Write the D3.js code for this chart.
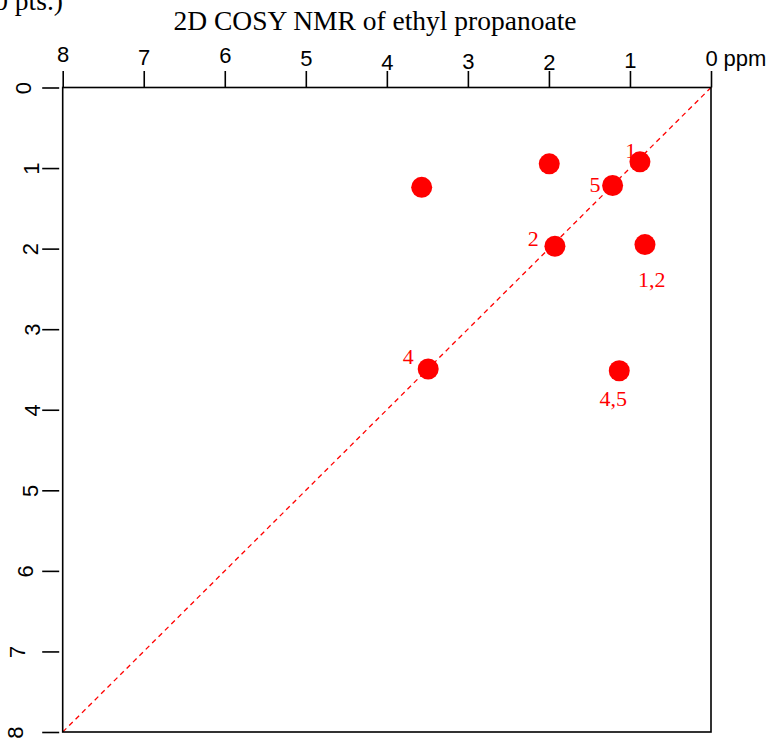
<!DOCTYPE html>
<html><head><meta charset="utf-8">
<script src="https://cdn.jsdelivr.net/npm/d3@7"></script>
<style>body{margin:0;background:#fff;}svg{display:block;}</style>
</head><body>
<script>
// ---- data ----
const chartTitle = "2D COSY NMR of ethyl propanoate";
const cornerNote = "(10 pts.)";
const axisTicks = [8, 7, 6, 5, 4, 3, 2, 1, 0];
const unitLabel = "ppm";
const peakX = [0.877, 1.996, 3.57, 1.214, 1.926, 0.815, 3.49, 1.132];
const peakY = [0.923, 0.948, 1.239, 1.217, 1.971, 1.95, 3.494, 3.516];
const peakLabels = ["1", "5", "2", "1,2", "4", "4,5"];
const peakLabelX = [0.99, 1.432, 2.194, 0.732, 3.737, 1.206];
const peakLabelY = [0.779, 1.205, 1.88, 2.38, 3.338, 3.86];

// ---- style ----
const W = 769, H = 742;
const plot = {left: 62.7, right: 711, top: 87.5, bottom: 732};
const topLabelNudge = [-4.3, -2, -3.7, -0.3, 3.7, 2.3, 3.7, 1.3, -1];
const leftLabelNudge = [-4, 4, 3, 4.5, 4.5, 3, -2, -10, -12];
const red = "#ff0000";
const serif = "Liberation Serif, Times New Roman, serif";
const sans = "Liberation Sans, Arial, sans-serif";

const svg = d3.select("body").append("svg").attr("width", W).attr("height", H);

const x = d3.scaleLinear().domain([8, 0]).range([plot.left, plot.right]);
const y = d3.scaleLinear().domain([0, 8]).range([plot.top, plot.bottom]);

// title & corner note
svg.append("text").attr("x", 375).attr("y", 30).attr("text-anchor", "middle")
  .attr("font-family", serif).attr("font-size", 27.5)
  .text(chartTitle);
svg.append("text").attr("x", 63).attr("y", 10).attr("text-anchor", "end")
  .attr("font-family", serif).attr("font-size", 27.5)
  .text(cornerNote);

// top axis
const topAxis = d3.axisTop(x).tickValues(axisTicks).tickSize(16.5).tickSizeOuter(0).tickFormat(d3.format("d"));
const gTop = svg.append("g").attr("transform", `translate(0,${plot.top})`).call(topAxis);
gTop.select(".domain").remove();
gTop.selectAll(".tick line").attr("stroke", "#000").attr("stroke-width", 1.6);
gTop.selectAll(".tick text")
  .attr("font-family", sans).attr("font-size", 22).attr("fill", "#000")
  .attr("dy", null).attr("y", (d, i) => -21 + topLabelNudge[i]);
svg.append("text").attr("x", x(0) + 12.5).attr("y", plot.top - 22)
  .attr("font-family", sans).attr("font-size", 22)
  .text(unitLabel);

// left axis (detached ticks)
const leftAxis = d3.axisLeft(y).tickValues(axisTicks.slice().reverse()).tickSize(17).tickSizeOuter(0).tickFormat(d3.format("d"));
const gLeft = svg.append("g").attr("transform", `translate(${plot.left - 3.5},0)`).call(leftAxis);
gLeft.select(".domain").remove();
gLeft.selectAll(".tick line").attr("stroke", "#000").attr("stroke-width", 1.6);
gLeft.selectAll(".tick text")
  .attr("font-family", sans).attr("font-size", 22).attr("fill", "#000")
  .attr("x", null).attr("dy", null).attr("text-anchor", "middle")
  .attr("transform", (d, i) => `translate(${-32 + leftLabelNudge[i]},0) rotate(-90)`)
  .attr("dy", "0.36em");

// diagonal
svg.append("line")
  .attr("x1", x(0)).attr("y1", y(0)).attr("x2", x(8)).attr("y2", y(8))
  .attr("stroke", red).attr("stroke-width", 1.3).attr("stroke-dasharray", "5,4");

// frame
svg.append("rect").attr("x", plot.left).attr("y", plot.top)
  .attr("width", plot.right - plot.left).attr("height", plot.bottom - plot.top)
  .attr("fill", "none").attr("stroke", "#000").attr("stroke-width", 1.6);

// peaks
svg.append("g").selectAll("circle").data(d3.range(peakX.length)).join("circle")
  .attr("cx", i => x(peakX[i])).attr("cy", i => y(peakY[i])).attr("r", 10.5).attr("fill", red);

// labels
svg.append("g").selectAll("text").data(d3.range(peakLabels.length)).join("text")
  .attr("x", i => x(peakLabelX[i])).attr("y", i => y(peakLabelY[i]))
  .attr("dy", "0.34em").attr("text-anchor", "middle")
  .attr("font-family", serif).attr("font-size", 22).attr("fill", red)
  .text(i => peakLabels[i]);
</script>
</body></html>
